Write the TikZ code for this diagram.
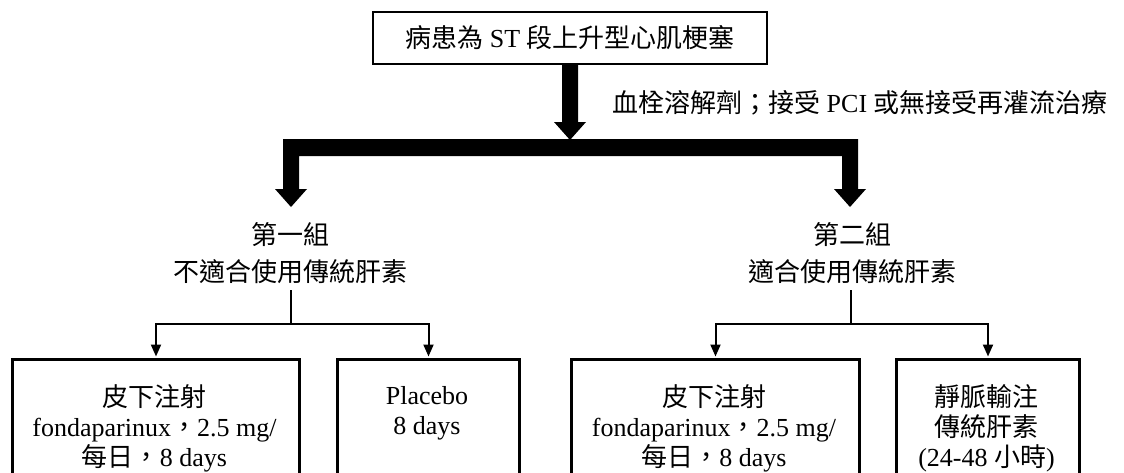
\documentclass[tikz,border=0pt]{standalone}
\usepackage{fontspec}
\setmainfont{Liberation Serif}
\newfontfamily\cjk{Noto Sans CJK TC}
\usetikzlibrary{arrows.meta}
\newcommand\zh[1]{{\cjk #1}}
\begin{document}
\begin{tikzpicture}[x=1pt,y=-1pt,
  txt/.style={font=\fontsize{26}{30}\selectfont, inner sep=0pt, align=center},
  topbox/.style={draw, line width=2.2pt, minimum width=394pt, minimum height=52pt, inner sep=0pt, font=\fontsize{26}{30}\selectfont},
  lowbox/.style={draw, line width=3pt, anchor=north west, inner sep=0pt, minimum height=150pt},
  thinline/.style={line width=2pt},
  tipend/.style={-{Triangle[width=10pt,length=12pt]}, shorten >=1.5pt},
  bigarrow/.style={fill=black}
]
\useasboundingbox (0,0) rectangle (1124,472);
\clip (0,0) rectangle (1124,472);

% top box
\node[topbox] (top) at (570,38) {\zh{病患為} ST \zh{段上升型心肌梗塞}};
\node[txt, anchor=west] (via) at (612,103) {\zh{血栓溶解劑；接受} PCI \zh{或無接受再灌流治療}};

% group labels
\node[txt] (g1) at (290,253.5) {\zh{第一組}\\[7pt]\zh{不適合使用傳統肝素}};
\node[txt] (g2) at (852,253.5) {\zh{第二組}\\[7pt]\zh{適合使用傳統肝素}};

% thick arrows
\fill[bigarrow] (562,64) -- (578,64) -- (578,122) -- (586,122) -- (570,140) -- (554,122) -- (562,122) -- cycle;
\fill[bigarrow] (283,139) -- (858,139) -- (858,189) -- (866,189) -- (850,207) -- (834,189) -- (842,189)
  -- (842,156) -- (299,156) -- (299,189) -- (307,189) -- (291,207) -- (275,189) -- (283,189) -- cycle;

% lower boxes
\node[lowbox, minimum width=287pt] (b1) at (11,358) {};
\node[lowbox, minimum width=182pt] (b2) at (336,358) {};
\node[lowbox, minimum width=288pt] (b3) at (570,358) {};
\node[lowbox, minimum width=183pt] (b4) at (895,358) {};

\node[txt] (t1) at (154.5,428) {\zh{皮下注射}\\fondaparinux\zh{，}2.5 mg/\\\zh{每日，}8 days};
\node[txt] (t2) at (427,413) {Placebo\\8 days};
\node[txt] (t3) at (714,428) {\zh{皮下注射}\\fondaparinux\zh{，}2.5 mg/\\\zh{每日，}8 days};
\node[txt] (t4) at (986.5,428) {\zh{靜脈輸注}\\\zh{傳統肝素}\\(24-48 \zh{小時})};

% thin connectors
\coordinate (s1) at (291,290);
\coordinate (j1) at (291,324);
\coordinate (s2) at (851,290);
\coordinate (j2) at (851,324);
\draw[thinline] (s1) -- (j1);
\draw[thinline, tipend] (j1) -| (b1.north);
\draw[thinline, tipend] (j1) -| (b2.north);
\draw[thinline] (s2) -- (j2);
\draw[thinline, tipend] (j2) -| (b3.north);
\draw[thinline, tipend] (j2) -| (b4.north);
\end{tikzpicture}
\end{document}
